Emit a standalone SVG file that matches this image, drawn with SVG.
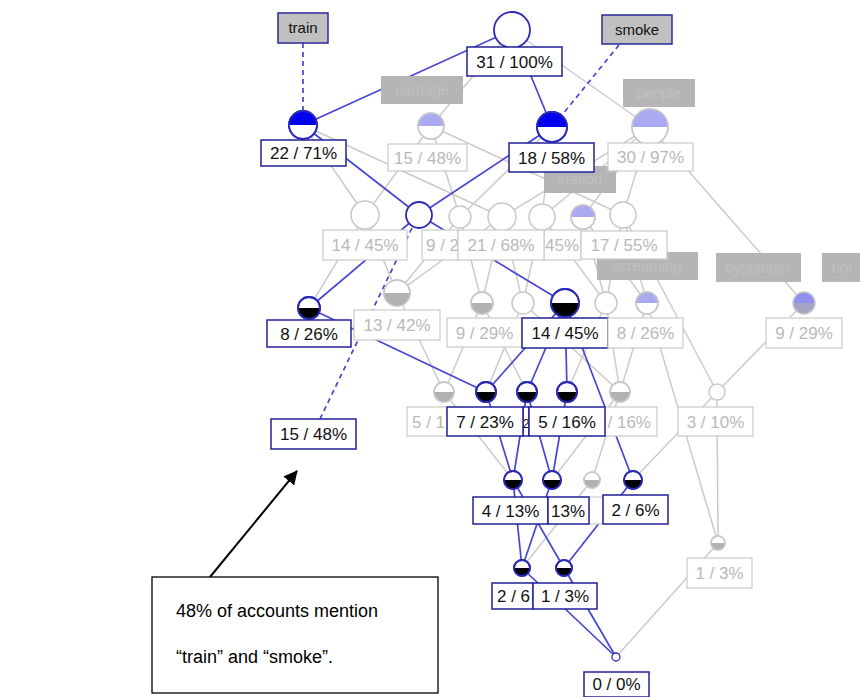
<svg xmlns="http://www.w3.org/2000/svg" width="860" height="697" viewBox="0 0 860 697">
<style>
.bl{stroke:#4646d2;stroke-width:1.7;fill:none}
.gl{stroke:#cbcbcb;stroke-width:1.5;fill:none}
.dash{stroke:#4646d2;stroke-width:1.7;fill:none;stroke-dasharray:5 4}
.rb{fill:#fff;stroke:#22229a;stroke-width:1.5}
.rg{fill:#fff;stroke:#cacaca;stroke-width:1.2}
.tb{font-family:"Liberation Sans",Arial,sans-serif;font-size:17px;fill:#111;text-anchor:middle}
.tg{font-family:"Liberation Sans",Arial,sans-serif;font-size:17px;fill:#b9b9b9;text-anchor:middle}
.cg{fill:#fff;stroke:#c8c8c8;stroke-width:1.5}
.cb{fill:#fff;stroke:#2a2ab8;stroke-width:1.8}
.co{fill:none;stroke:#c8c8c8;stroke-width:1.5}
.cbo{fill:none;stroke:#2a2ab8;stroke-width:1.8}
.blk{fill:#000}
.gry{fill:#b2b2b2}
.lbl{fill:#aaaaf2}
.blu{fill:#0000f0}
.attr{fill:#b5b5b5}
.attrt{font-family:"Liberation Sans",Arial,sans-serif;font-size:15px;fill:#c0c0c0;text-anchor:middle}
.key{fill:#c0c0c0;stroke:#2a2a9a;stroke-width:1.5}
.keyt{font-family:"Liberation Sans",Arial,sans-serif;font-size:15px;fill:#111;text-anchor:middle}
.note{font-family:"Liberation Sans",Arial,sans-serif;font-size:18px;fill:#000}
.st{text-anchor:start}
.en{text-anchor:end}
</style>
<defs>
<marker id="ah" markerWidth="14" markerHeight="14" refX="13" refY="7" orient="auto" markerUnits="userSpaceOnUse">
<path d="M0,0 L14,7 L0,14 Z" fill="#000"/>
</marker>
</defs>
<rect width="860" height="697" fill="#fff"/>

<g id="connectors">
<line class="gl" x1="512" y1="30" x2="431" y2="126"/>
<line class="gl" x1="512" y1="30" x2="650" y2="127"/>
<line class="gl" x1="303" y1="125" x2="365" y2="215"/>
<line class="gl" x1="303" y1="125" x2="502" y2="217"/>
<line class="gl" x1="431" y1="126" x2="365" y2="215"/>
<line class="gl" x1="431" y1="126" x2="460" y2="217"/>
<line class="gl" x1="431" y1="126" x2="623" y2="215"/>
<line class="gl" x1="552" y1="127" x2="460" y2="217"/>
<line class="gl" x1="552" y1="127" x2="542" y2="217"/>
<line class="gl" x1="650" y1="127" x2="502" y2="217"/>
<line class="gl" x1="650" y1="127" x2="542" y2="217"/>
<line class="gl" x1="650" y1="127" x2="583" y2="217"/>
<line class="gl" x1="650" y1="127" x2="623" y2="215"/>
<line class="gl" x1="650" y1="127" x2="804" y2="303"/>
<line class="gl" x1="365" y1="215" x2="309" y2="308"/>
<line class="gl" x1="365" y1="215" x2="397" y2="293"/>
<line class="gl" x1="460" y1="217" x2="397" y2="293"/>
<line class="gl" x1="460" y1="217" x2="482" y2="303"/>
<line class="gl" x1="502" y1="217" x2="397" y2="293"/>
<line class="gl" x1="502" y1="217" x2="482" y2="303"/>
<line class="gl" x1="502" y1="217" x2="523" y2="303"/>
<line class="gl" x1="542" y1="217" x2="523" y2="303"/>
<line class="gl" x1="542" y1="217" x2="606" y2="303"/>
<line class="gl" x1="583" y1="217" x2="606" y2="303"/>
<line class="gl" x1="583" y1="217" x2="647" y2="303"/>
<line class="gl" x1="623" y1="215" x2="606" y2="303"/>
<line class="gl" x1="623" y1="215" x2="647" y2="303"/>
<line class="gl" x1="623" y1="215" x2="717" y2="392"/>
<line class="gl" x1="397" y1="293" x2="444" y2="392"/>
<line class="gl" x1="482" y1="303" x2="444" y2="392"/>
<line class="gl" x1="482" y1="303" x2="527" y2="392"/>
<line class="gl" x1="523" y1="303" x2="486" y2="392"/>
<line class="gl" x1="523" y1="303" x2="620" y2="392"/>
<line class="gl" x1="606" y1="303" x2="567" y2="392"/>
<line class="gl" x1="606" y1="303" x2="620" y2="392"/>
<line class="gl" x1="647" y1="303" x2="620" y2="392"/>
<line class="gl" x1="647" y1="303" x2="718" y2="543"/>
<line class="gl" x1="804" y1="303" x2="717" y2="392"/>
<line class="gl" x1="444" y1="392" x2="513" y2="480"/>
<line class="gl" x1="620" y1="392" x2="552" y2="480"/>
<line class="gl" x1="620" y1="392" x2="592" y2="480"/>
<line class="gl" x1="717" y1="392" x2="633" y2="480"/>
<line class="gl" x1="717" y1="392" x2="718" y2="543"/>
<line class="gl" x1="592" y1="480" x2="522" y2="568"/>
<line class="gl" x1="718" y1="543" x2="616" y2="657"/>
<line class="bl" x1="512" y1="30" x2="303" y2="125"/>
<line class="bl" x1="512" y1="30" x2="552" y2="127"/>
<line class="bl" x1="303" y1="125" x2="419" y2="215"/>
<line class="bl" x1="552" y1="127" x2="419" y2="215"/>
<line class="bl" x1="419" y1="215" x2="309" y2="308"/>
<line class="bl" x1="419" y1="215" x2="565" y2="303"/>
<line class="bl" x1="309" y1="308" x2="486" y2="392"/>
<line class="bl" x1="565" y1="303" x2="486" y2="392"/>
<line class="bl" x1="565" y1="303" x2="527" y2="392"/>
<line class="bl" x1="565" y1="303" x2="567" y2="392"/>
<line class="bl" x1="565" y1="303" x2="633" y2="480"/>
<line class="bl" x1="486" y1="392" x2="513" y2="480"/>
<line class="bl" x1="527" y1="392" x2="513" y2="480"/>
<line class="bl" x1="527" y1="392" x2="552" y2="480"/>
<line class="bl" x1="567" y1="392" x2="552" y2="480"/>
<line class="bl" x1="513" y1="480" x2="522" y2="568"/>
<line class="bl" x1="552" y1="480" x2="522" y2="568"/>
<line class="bl" x1="513" y1="480" x2="564" y2="568"/>
<line class="bl" x1="633" y1="480" x2="564" y2="568"/>
<line class="bl" x1="522" y1="568" x2="616" y2="657"/>
<line class="bl" x1="564" y1="568" x2="616" y2="657"/>
<line class="dash" x1="303" y1="43" x2="303" y2="111"/>
<line class="dash" x1="619" y1="45" x2="562" y2="115"/>
<line class="dash" x1="412" y1="228" x2="320" y2="419"/>
</g>

<g id="attributes">
<g id="attr-train"><rect class="key" x="278" y="13" width="50" height="30"/><text class="keyt" x="303" y="33">train</text></g>
<g id="attr-smoke"><rect class="key" x="602" y="15" width="70" height="29"/><text class="keyt" x="637" y="35">smoke</text></g>
<g id="attr-carriage"><rect class="attr" x="381" y="76" width="82" height="28"/><text class="attrt" x="422" y="95">carriage</text></g>
<g id="attr-people"><rect class="attr" x="623" y="79" width="72" height="28"/><text class="attrt" x="659" y="98">people</text></g>
<g id="attr-station"><rect class="attr" x="544" y="166" width="72" height="27"/><text class="attrt" x="580" y="184">station</text></g>
<g id="attr-screaming"><rect class="attr" x="597" y="252" width="101" height="28"/><text class="attrt" x="647" y="271">screaming</text></g>
<g id="attr-bystander"><rect class="attr" x="716" y="253" width="85" height="29"/><text class="attrt" x="758" y="273">bystander</text></g>
<g id="attr-hot"><rect class="attr" x="822" y="253" width="40" height="29"/><text class="attrt" x="842" y="273">hot</text></g>
</g>

<g id="n-top"><circle class="cb" cx="512" cy="30" r="18"/><rect class="rb" x="467" y="47" width="95" height="29"/><text class="tb" x="514.5" y="67.5">31 / 100%</text></g>
<g id="n-train"><circle class="cb" cx="303" cy="125" r="14"/><path class="blu" d="M289,125 A14,14 0 0 1 317,125 Z"/><circle class="cbo" cx="303" cy="125" r="14"/><rect class="rb" x="261" y="140" width="85" height="26"/><text class="tb" x="303.5" y="159">22 / 71%</text></g>
<g id="n-carriage"><circle class="cg" cx="431" cy="126" r="13"/><path class="lbl" d="M418,126 A13,13 0 0 1 444,126 Z"/><circle class="co" cx="431" cy="126" r="13"/><rect class="rg" x="388" y="144" width="79" height="27"/><text class="tg" x="427.5" y="163.5">15 / 48%</text></g>
<g id="n-smoke"><circle class="cb" cx="552" cy="127" r="15"/><path class="blu" d="M537,127 A15,15 0 0 1 567,127 Z"/><circle class="cbo" cx="552" cy="127" r="15"/><rect class="rb" x="509" y="143" width="85" height="29"/><text class="tb" x="551.5" y="163.5">18 / 58%</text></g>
<g id="n-people"><circle class="cg" cx="650" cy="127" r="18"/><path class="lbl" d="M632,127 A18,18 0 0 1 668,127 Z"/><circle class="co" cx="650" cy="127" r="18"/><rect class="rg" x="608" y="143" width="85" height="28"/><text class="tg" x="650.5" y="163">30 / 97%</text></g>

<g id="n-a"><circle class="cg" cx="365" cy="215" r="14"/><rect class="rg" x="323" y="230" width="84" height="30"/><text class="tg" x="365" y="251">14 / 45%</text></g>
<g id="n-b"><circle class="cb" cx="419" cy="215" r="13"/></g>
<g id="n-c"><circle class="cg" cx="460" cy="217" r="11"/><rect class="rg" x="422" y="230" width="36" height="30"/><text class="tg st" x="426" y="251">9 / 2</text></g>
<g id="n-f"><circle class="cg" cx="583" cy="217" r="12"/><path class="lbl" d="M571,217 A12,12 0 0 1 595,217 Z"/><circle class="co" cx="583" cy="217" r="12"/></g>
<g id="n-e"><circle class="cg" cx="542" cy="217" r="13"/><rect class="rg" x="544" y="230" width="37" height="30"/><text class="tg en" x="579" y="251">45%</text></g>
<g id="n-d"><circle class="cg" cx="502" cy="217" r="14"/><rect class="rg" x="458" y="230" width="86" height="30"/><text class="tg" x="501" y="251">21 / 68%</text></g>
<g id="n-g"><circle class="cg" cx="623" cy="215" r="13"/><rect class="rg" x="581" y="231" width="86" height="28"/><text class="tg" x="624" y="251">17 / 55%</text></g>

<g id="n-h"><circle class="cb" cx="309" cy="308" r="11"/><path class="blk" d="M298,308 A11,11 0 0 0 320,308 Z"/><circle class="cbo" cx="309" cy="308" r="11"/><rect class="rb" x="267" y="320" width="84" height="27"/><text class="tb" x="309" y="339.5">8 / 26%</text></g>
<g id="n-i"><circle class="cg" cx="397" cy="293" r="13"/><path class="gry" d="M384,293 A13,13 0 0 0 410,293 Z"/><circle class="co" cx="397" cy="293" r="13"/><rect class="rg" x="354" y="310" width="86" height="30"/><text class="tg" x="397" y="331">13 / 42%</text></g>
<g id="n-j"><circle class="cg" cx="482" cy="303" r="11"/><path class="gry" d="M471,303 A11,11 0 0 0 493,303 Z"/><circle class="co" cx="482" cy="303" r="11"/><rect class="rg" x="447" y="318" width="75" height="29"/><text class="tg" x="484.5" y="338.5">9 / 29%</text></g>
<g id="n-k"><circle class="cg" cx="523" cy="303" r="11"/></g>
<g id="n-m"><circle class="cg" cx="606" cy="303" r="11"/></g>
<g id="n-l"><circle class="cb" cx="565" cy="303" r="14"/><path class="blk" d="M551,303 A14,14 0 0 0 579,303 Z"/><circle class="cbo" cx="565" cy="303" r="14"/><rect class="rb" x="522" y="318" width="86" height="30"/><text class="tb" x="565" y="339">14 / 45%</text></g>
<g id="n-n"><circle class="cg" cx="647" cy="303" r="11"/><path class="lbl" d="M636,303 A11,11 0 0 1 658,303 Z"/><circle class="co" cx="647" cy="303" r="11"/><rect class="rg" x="608" y="318" width="75" height="30"/><text class="tg" x="645.5" y="339">8 / 26%</text></g>
<g id="n-o"><path fill="#8f8ff0" d="M793,303 A11,11 0 0 1 815,303 Z"/><path fill="#a4a4c4" d="M793,303 A11,11 0 0 0 815,303 Z"/><circle class="co" cx="804" cy="303" r="11"/><rect class="rg" x="766" y="318" width="76" height="30"/><text class="tg" x="804" y="339">9 / 29%</text></g>

<g id="n-q"><circle class="cg" cx="444" cy="392" r="10"/><path class="gry" d="M434,392 A10,10 0 0 0 454,392 Z"/><circle class="co" cx="444" cy="392" r="10"/><rect class="rg" x="407" y="407" width="40" height="29"/><text class="tg st" x="412" y="427.5">5 / 1</text></g>
<g id="n-s2"><circle class="cb" cx="527" cy="392" r="10"/><path class="blk" d="M517,392 A10,10 0 0 0 537,392 Z"/><circle class="cbo" cx="527" cy="392" r="10"/><rect class="rb" x="523" y="407" width="6" height="29"/><text class="tb" x="526" y="427.5" style="font-size:12px">2</text></g>
<g id="n-r"><circle class="cb" cx="486" cy="392" r="10"/><path class="blk" d="M476,392 A10,10 0 0 0 496,392 Z"/><circle class="cbo" cx="486" cy="392" r="10"/><rect class="rb" x="447" y="407" width="76" height="29"/><text class="tb" x="485" y="427.5">7 / 23%</text></g>
<g id="n-u"><circle class="cg" cx="620" cy="392" r="10"/><path class="gry" d="M610,392 A10,10 0 0 0 630,392 Z"/><circle class="co" cx="620" cy="392" r="10"/><rect class="rg" x="605" y="407" width="52" height="29"/><text class="tg en" x="651" y="427.5">/ 16%</text></g>
<g id="n-t2"><circle class="cb" cx="567" cy="392" r="10"/><path class="blk" d="M557,392 A10,10 0 0 0 577,392 Z"/><circle class="cbo" cx="567" cy="392" r="10"/><rect class="rb" x="529" y="407" width="76" height="29"/><text class="tb" x="567" y="427.5">5 / 16%</text></g>
<g id="n-v"><circle class="cg" cx="717" cy="392" r="8"/><rect class="rg" x="678" y="407" width="75" height="29"/><text class="tg" x="715.5" y="427.5">3 / 10%</text></g>

<g id="n-y"><circle class="cg" cx="592" cy="480" r="8"/><path class="gry" d="M584,480 A8,8 0 0 0 600,480 Z"/><circle class="co" cx="592" cy="480" r="8"/><rect class="rg" x="589" y="497" width="14" height="27"/></g>
<g id="n-w"><circle class="cb" cx="513" cy="480" r="9"/><path class="blk" d="M504,480 A9,9 0 0 0 522,480 Z"/><circle class="cbo" cx="513" cy="480" r="9"/><rect class="rb" x="473" y="497" width="75" height="27"/><text class="tb" x="510.5" y="516.5">4 / 13%</text></g>
<g id="n-x"><circle class="cb" cx="552" cy="480" r="9"/><path class="blk" d="M543,480 A9,9 0 0 0 561,480 Z"/><circle class="cbo" cx="552" cy="480" r="9"/><rect class="rb" x="548" y="497" width="41" height="27"/><text class="tb st" x="551" y="516.5">13%</text></g>
<g id="n-z"><circle class="cb" cx="633" cy="480" r="9"/><path class="blk" d="M624,480 A9,9 0 0 0 642,480 Z"/><circle class="cbo" cx="633" cy="480" r="9"/><rect class="rb" x="603" y="495" width="65" height="29"/><text class="tb" x="635.5" y="515.5">2 / 6%</text></g>
<g id="n-g1"><circle class="cg" cx="718" cy="543" r="7"/><path class="gry" d="M711,543 A7,7 0 0 0 725,543 Z"/><circle class="co" cx="718" cy="543" r="7"/><rect class="rg" x="687" y="558" width="65" height="30"/><text class="tg" x="719.5" y="579">1 / 3%</text></g>
<g id="n-a2"><circle class="cb" cx="522" cy="568" r="8"/><path class="blk" d="M514,568 A8,8 0 0 0 530,568 Z"/><circle class="cbo" cx="522" cy="568" r="8"/><rect class="rb" x="492" y="583" width="41" height="26"/><text class="tb st" x="497" y="602">2 / 6</text></g>
<g id="n-b2"><circle class="cb" cx="564" cy="568" r="8"/><path class="blk" d="M556,568 A8,8 0 0 0 572,568 Z"/><circle class="cbo" cx="564" cy="568" r="8"/><rect class="rb" x="533" y="583" width="64" height="26"/><text class="tb" x="565" y="602">1 / 3%</text></g>
<g id="n-bottom"><circle class="cb" cx="616" cy="657" r="4" style="stroke-width:1.3"/><rect class="rb" x="584" y="672" width="65" height="25"/><text class="tb" x="616.5" y="690">0 / 0%</text></g>
<g id="n-ts"><rect class="rb" x="271" y="419" width="85" height="30"/><text class="tb" x="313.5" y="440">15 / 48%</text></g>

<g id="annotation">
<line x1="210" y1="577" x2="297" y2="471" stroke="#000" stroke-width="2" marker-end="url(#ah)"/>
<rect x="152" y="577" width="286" height="116" fill="#fff" stroke="#000" stroke-width="1.3"/>
<text class="note" x="176" y="617">48% of accounts mention</text>
<text class="note" x="176" y="663">“train” and “smoke”.</text>
</g>
</svg>
